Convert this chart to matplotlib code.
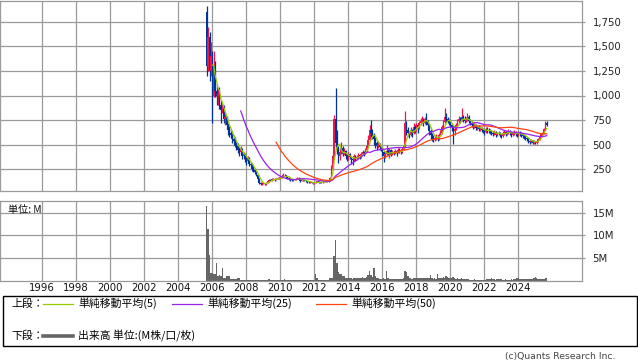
import matplotlib
matplotlib.use("Agg")
import matplotlib.pyplot as plt
from matplotlib.lines import Line2D
from matplotlib.patches import Rectangle
import numpy as np
import pandas as pd

# ---------------- data (monthly, 2005-09 .. 2025-09) ----------------
start = "2005-09"
opens = [
    1850, 1300, 1600, 1250,
    1400, 1000, 1300, 1050, 1000, 1020, 900, 850, 880, 760, 780, 700,
    650, 620, 600, 560, 540, 500, 480, 440, 420, 450, 380, 400,
    350, 330, 360, 300, 290, 250, 240, 220, 190, 150, 110, 95,
    100, 105, 95, 110, 130, 140, 135, 145, 150, 140, 150, 160,
    155, 160, 175, 190, 185, 170, 160, 150, 140, 135, 140, 145,
    150, 150, 160, 130, 135, 140, 130, 125, 120, 115, 120, 110,
    105, 110, 120, 125, 115, 110, 115, 120, 125, 120, 125, 135,
    160, 250, 380, 760, 520, 440, 380, 420, 460, 400, 430, 380,
    360, 400, 370, 350, 340, 380, 360, 370, 390, 380, 400, 420,
    410, 440, 480, 550, 650, 620, 600, 560, 520, 480, 500, 470,
    450, 420, 380, 400, 430, 410, 440, 400, 420, 410, 430, 420,
    440, 430, 420, 450, 480, 720, 650, 620, 600, 640, 620, 680,
    650, 700, 680, 720, 740, 760, 720, 760, 740, 700, 640, 600,
    580, 560, 570, 580, 560, 600, 620, 680, 730, 780, 760, 740,
    720, 700, 680, 640, 660, 700, 740, 760, 750, 780, 760, 740,
    760, 780, 740, 720, 700, 680, 700, 670, 680, 660, 670, 650,
    640, 630, 660, 650, 640, 630, 620, 610, 630, 600, 610, 620,
    600, 590, 620, 630, 610, 620, 640, 620, 600, 615, 630, 610,
    600, 620, 610, 600, 590, 580, 570, 560, 540, 530, 540, 520,
    530, 515, 540, 560, 590, 610, 620, 660, 720,
]
highs = [
    1913, 1700, 1650, 1550,
    1450, 1450, 1350, 1120, 1080, 1090, 950, 920, 900, 820, 790, 720,
    690, 660, 640, 600, 580, 530, 520, 470, 480, 460, 420, 410,
    370, 380, 370, 320, 300, 280, 260, 230, 200, 160, 120, 115,
    120, 110, 120, 140, 150, 150, 155, 160, 155, 160, 170, 165,
    170, 185, 205, 200, 190, 175, 165, 155, 145, 150, 150, 160,
    165, 170, 162, 140, 145, 142, 135, 128, 125, 125, 122, 112,
    115, 125, 130, 128, 118, 120, 125, 130, 128, 130, 140, 170,
    290, 420, 800, 1080, 650, 480, 460, 530, 480, 460, 440, 400,
    420, 410, 380, 360, 400, 390, 390, 410, 400, 420, 440, 430,
    460, 500, 600, 700, 750, 660, 620, 580, 540, 530, 520, 490,
    460, 430, 420, 500, 450, 460, 450, 440, 430, 450, 440, 460,
    460, 440, 470, 500, 840, 740, 680, 640, 680, 660, 720, 700,
    720, 710, 740, 770, 790, 770, 780, 820, 750, 710, 660, 620,
    600, 600, 610, 600, 620, 650, 700, 750, 870, 820, 780, 760,
    740, 720, 700, 690, 720, 760, 790, 780, 870, 800, 790, 780,
    820, 800, 760, 740, 720, 730, 710, 700, 700, 690, 680, 670,
    660, 680, 680, 670, 660, 650, 640, 650, 640, 630, 640, 630,
    610, 640, 650, 640, 640, 660, 650, 630, 630, 650, 640, 620,
    640, 640, 630, 610, 600, 600, 580, 570, 550, 560, 550, 545,
    540, 550, 570, 600, 620, 630, 670, 740, 735,
]
lows = [
    1200, 1250, 1150, 1200,
    720, 980, 980, 900, 900, 860, 720, 820, 720, 700, 660, 600,
    580, 570, 520, 500, 470, 440, 410, 380, 400, 350, 350, 320,
    290, 310, 280, 260, 230, 220, 200, 180, 140, 95, 85, 88,
    95, 88, 90, 105, 120, 125, 130, 140, 130, 135, 145, 145,
    150, 155, 170, 175, 160, 150, 140, 130, 128, 130, 135, 140,
    145, 145, 120, 125, 130, 125, 120, 110, 110, 112, 105, 100,
    98, 108, 115, 110, 105, 108, 112, 118, 115, 118, 122, 130,
    155, 240, 370, 480, 400, 310, 340, 400, 380, 390, 350, 330,
    340, 350, 300, 290, 330, 330, 340, 360, 350, 360, 390, 380,
    400, 420, 470, 540, 580, 560, 500, 460, 440, 460, 440, 430,
    380, 320, 360, 390, 390, 360, 380, 390, 390, 400, 380, 410,
    410, 400, 410, 440, 470, 600, 590, 570, 590, 580, 610, 620,
    640, 620, 660, 700, 720, 690, 710, 700, 660, 600, 560, 540,
    530, 540, 550, 540, 550, 590, 610, 660, 720, 730, 720, 700,
    680, 640, 510, 600, 650, 690, 720, 720, 740, 730, 720, 730,
    740, 720, 700, 680, 660, 670, 650, 650, 640, 640, 630, 620,
    600, 620, 620, 620, 610, 600, 590, 600, 580, 590, 600, 580,
    570, 580, 600, 590, 600, 610, 600, 580, 590, 600, 590, 580,
    590, 590, 580, 570, 560, 550, 540, 520, 510, 520, 505, 510,
    505, 505, 530, 550, 580, 590, 610, 650, 690,
]
closes = [
    1300, 1600, 1250, 1400,
    1000, 1300, 1050, 1000, 1020, 900, 850, 880, 760, 780, 700, 650,
    620, 600, 560, 540, 500, 480, 440, 420, 450, 380, 400, 350,
    330, 360, 300, 290, 250, 240, 220, 190, 150, 110, 95, 100,
    105, 95, 110, 130, 140, 135, 145, 150, 140, 150, 160, 155,
    160, 175, 190, 185, 170, 160, 150, 140, 135, 140, 145, 150,
    150, 160, 130, 135, 140, 130, 125, 120, 115, 120, 110, 105,
    110, 120, 125, 115, 110, 115, 120, 125, 120, 125, 135, 160,
    250, 380, 760, 520, 440, 380, 420, 460, 400, 430, 380, 360,
    400, 370, 350, 340, 380, 360, 370, 390, 380, 400, 420, 410,
    440, 480, 550, 650, 620, 600, 560, 520, 480, 500, 470, 450,
    420, 380, 400, 430, 410, 440, 400, 420, 410, 430, 420, 440,
    430, 420, 450, 480, 720, 650, 620, 600, 640, 620, 680, 650,
    700, 680, 720, 740, 760, 720, 760, 740, 700, 640, 600, 580,
    560, 570, 580, 560, 600, 620, 680, 730, 780, 760, 740, 720,
    700, 680, 640, 660, 700, 740, 760, 750, 780, 760, 740, 760,
    780, 740, 720, 700, 680, 700, 670, 680, 660, 670, 650, 640,
    630, 660, 650, 640, 630, 620, 610, 630, 600, 610, 620, 600,
    590, 620, 630, 610, 620, 640, 620, 600, 615, 630, 610, 600,
    620, 610, 600, 590, 580, 570, 560, 540, 530, 540, 520, 530,
    515, 540, 560, 590, 610, 620, 660, 720, 700,
]
volumes_m = [
    16.4, 11.5, 5.6, 1.6,
    1.6, 1.5, 1.4, 3.9, 1.1, 1.2, 1.0, 2.8, 0.6, 0.5, 0.9, 0.9,
    0.9, 0.4, 0.4, 0.4, 0.4, 0.3, 0.6, 0.6, 0.2, 0.2, 0.15, 0.15,
    0.15, 0.1, 0.1, 0.1, 0.1, 0.1, 0.1, 0.1, 0.1, 0.12, 0.1, 0.1,
    0.1, 0.1, 0.1, 0.15, 0.4, 0.2, 0.1, 0.1, 0.1, 0.1, 0.1, 0.1,
    0.1, 0.1, 0.2, 0.4, 0.2, 0.1, 0.1, 0.1, 0.05, 0.05, 0.05, 0.05,
    0.05, 0.08, 0.1, 0.05, 0.05, 0.05, 0.05, 0.05, 0.05, 0.05, 0.05, 0.05,
    0.1, 1.5, 0.6, 0.2, 0.1, 0.1, 0.1, 0.1, 0.1, 0.1, 0.2, 0.5,
    0.5, 0.5, 5.5, 8.9, 3.9, 1.9, 1.4, 1.4, 1.1, 1.1, 0.5, 0.5,
    0.6, 0.5, 0.5, 0.4, 0.6, 0.5, 0.5, 0.6, 0.5, 0.6, 0.7, 0.5,
    0.6, 0.8, 1.3, 2.1, 1.2, 0.8, 2.8, 1.0, 0.6, 0.5, 0.4, 0.4,
    0.4, 0.6, 0.4, 2.1, 0.5, 0.4, 0.3, 0.3, 0.3, 0.3, 0.3, 0.3,
    0.3, 0.3, 0.3, 0.5, 2.1, 1.8, 1.0, 0.6, 0.5, 0.4, 0.6, 0.5,
    0.5, 0.5, 0.5, 0.5, 0.6, 0.5, 0.5, 0.6, 0.5, 0.6, 1.2, 0.5,
    0.4, 0.5, 0.4, 1.5, 0.6, 0.5, 0.5, 0.8, 0.6, 1.0, 0.8, 0.5,
    0.5, 0.5, 0.7, 0.5, 0.4, 0.5, 0.4, 0.4, 0.5, 0.4, 0.3, 0.3,
    0.3, 0.3, 0.2, 0.2, 0.2, 0.3, 0.2, 0.2, 0.2, 0.2, 0.2, 0.2,
    0.2, 0.2, 0.3, 0.3, 0.4, 0.5, 0.3, 0.3, 0.2, 0.4, 0.3, 0.3,
    0.3, 0.2, 0.2, 0.3, 0.2, 0.2, 0.2, 0.3, 0.2, 0.3, 0.4, 0.5,
    0.5, 0.4, 0.3, 0.3, 0.3, 0.3, 0.4, 0.4, 0.3, 0.3, 0.4, 0.5,
    0.8, 0.5, 0.4, 0.4, 0.3, 0.4, 0.4, 0.6, 0.5,
]
year_ticks = list(range(1996, 2025, 2))
price_ticks = [250, 500, 750, 1000, 1250, 1500, 1750]
price_tick_labels = ["250", "500", "750", "1,000", "1,250", "1,500", "1,750"]
vol_ticks = [5, 10, 15]
vol_tick_labels = ["5M", "10M", "15M"]
ma_windows = [5, 25, 50]
ma_labels = ["単純移動平均(5)", "単純移動平均(25)", "単純移動平均(50)"]

# ---------------- styling ----------------
W, H = 638, 362
RED = "#f0144b"
BLUE = "#003399"
MA_COLORS = ["#99cc00", "#9922ee", "#ff4411"]
GRID = "#9a9a9a"
VOLC = "#666666"
FS = 7.3
FSJ = 7.8
JP = ["Noto Sans CJK JP", "DejaVu Sans"]

dates = pd.date_range(start, periods=len(closes), freq="MS")
x = np.array([d.year + (d.month - 0.6) / 12 for d in dates])
o = np.array(opens, float); h = np.array(highs, float)
l = np.array(lows, float); c = np.array(closes, float)
up = c >= o
cols = np.where(up, RED, BLUE)

fig = plt.figure(figsize=(W / 100, H / 100), dpi=100)

def fx(px):
    return px / W

def fy(py):
    return 1 - py / H

ax1 = fig.add_axes([0, fy(190.5), fx(582), (190.5 - 0.5) / H])
ax2 = fig.add_axes([0, fy(280.5), fx(582), (280.5 - 201) / H])

xlim = (1996 - 41.8 / 17, 1996 + (582 - 41.8) / 17)
for ax in (ax1, ax2):
    ax.set_xlim(*xlim)
    ax.set_xticks(year_ticks)
    ax.grid(True, color=GRID, linewidth=0.9)
    ax.set_axisbelow(True)
    for s in ax.spines.values():
        s.set_color(GRID)
        s.set_linewidth(0.9)
    ax.yaxis.tick_right()
    ax.tick_params(axis="y", length=2.5, width=0.9, color=GRID, pad=5,
                   labelsize=FS, labelcolor="#222222")
    ax.tick_params(axis="x", length=0)

# price panel
ax1.set_ylim(31, 1969)
ax1.set_yticks(price_ticks)
ax1.set_yticklabels(price_tick_labels)
ax1.tick_params(axis="x", labelbottom=False)
ax1.vlines(x, l, h, colors=cols, linewidth=0.9, zorder=2)
body_h = np.maximum(np.abs(c - o), 2)
ax1.bar(x, body_h, bottom=np.minimum(o, c), width=0.085, color=cols,
        linewidth=0, zorder=2)
cs = pd.Series(c)
for win, col in zip(ma_windows, MA_COLORS):
    ma = cs.rolling(win).mean()
    ax1.plot(x, ma, color=col, linewidth=0.9, zorder=3)

# volume panel
ax2.set_ylim(0, 17.6)
ax2.bar(x, volumes_m, width=1 / 12, color=VOLC, linewidth=0, zorder=2)
ax2.set_yticks(vol_ticks)
ax2.set_yticklabels(vol_tick_labels)
ax2.set_xticklabels([str(y) for y in year_ticks])
ax2.tick_params(axis="x", labelsize=FS, pad=2, labelcolor="#111111")
ax2.text(fx(8), fy(209.5), "単位: M", transform=fig.transFigure, fontsize=FS,
         family=JP, va="center", ha="left", color="#111111")

# legend box
fig.add_artist(Rectangle((fx(3), fy(346)), fx(634), (346 - 296) / H,
                         transform=fig.transFigure, fill=False,
                         edgecolor="black", linewidth=1.0))
row1, row2 = 303.5, 336
fig.text(fx(11.5), fy(row1), "上段：", family=JP, fontsize=FSJ, va="center")
line_x = [(43.3, 73.3), (172, 202), (316, 346)]
for (a, b), col, lab in zip(line_x, MA_COLORS, ma_labels):
    fig.add_artist(Line2D([fx(a), fx(b)], [fy(row1), fy(row1)], color=col,
                          linewidth=0.9, transform=fig.transFigure))
    fig.text(fx(b + 5), fy(row1), lab, family=JP, fontsize=FSJ, va="center")
fig.text(fx(11.5), fy(row2), "下段：", family=JP, fontsize=FSJ, va="center")
fig.add_artist(Line2D([fx(43.3), fx(73.3)], [fy(row2), fy(row2)], color=VOLC,
                      linewidth=2.6, transform=fig.transFigure))
fig.text(fx(78.3), fy(row2), "出来高 単位:(M株/口/枚)", family=JP, fontsize=FSJ,
         va="center")

fig.text(fx(615), fy(356.5), "(c)Quants Research Inc.", fontsize=FS - 0.6,
         ha="right", va="center", color="#444444")

fig.savefig("out.png", dpi=100)
